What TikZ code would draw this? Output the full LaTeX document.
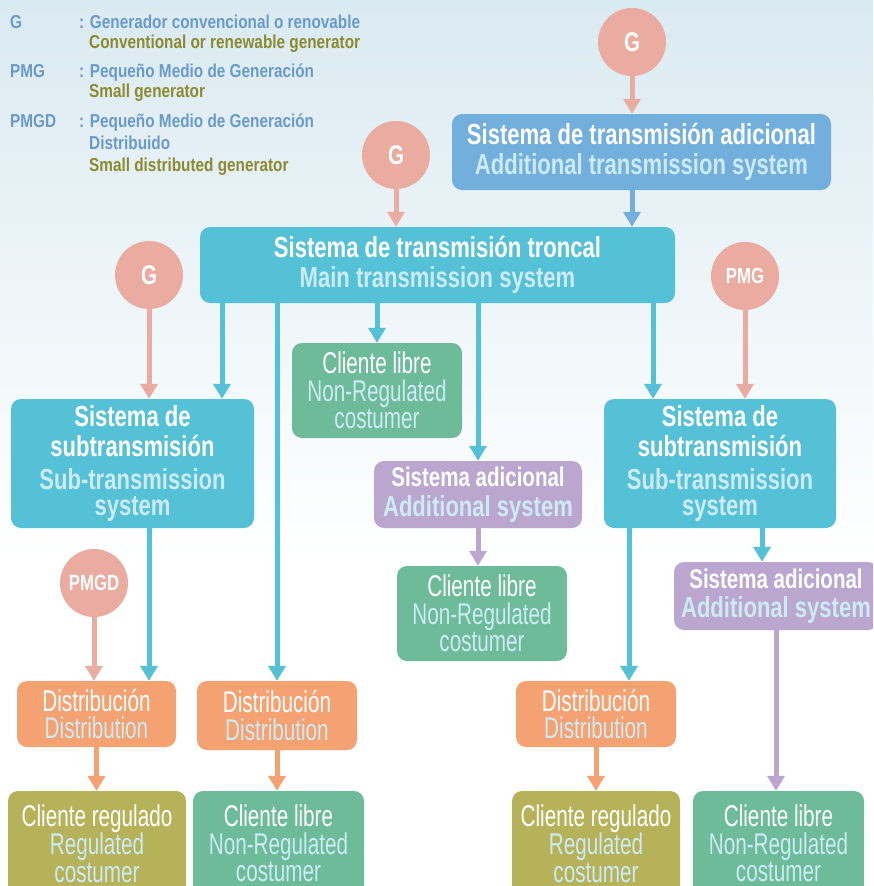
\documentclass[tikz,border=0pt]{standalone}
\usepackage{fontspec}
\setmainfont{Liberation Sans}
\newfontfamily\boldnarrow{Liberation Sans}[FakeStretch=0.76]
\newfontfamily\plainnarrow{Liberation Sans}[FakeStretch=0.69]
\newfontfamily\keynarrow{Liberation Sans}[FakeStretch=0.82]
\usetikzlibrary{arrows.meta}

\definecolor{gencol}{HTML}{EAABA1}
\definecolor{addcol}{HTML}{72AFDC}
\definecolor{trkcol}{HTML}{55C1D6}
\definecolor{freecol}{HTML}{6DBB99}
\definecolor{syscol}{HTML}{BAA6CF}
\definecolor{distcol}{HTML}{F5A272}
\definecolor{regcol}{HTML}{B5B25A}
\definecolor{subcol}{HTML}{CDEBF5}
\definecolor{keyblue}{HTML}{6A9AC9}
\definecolor{keyolive}{HTML}{8C8A30}
\definecolor{bgtop}{HTML}{DAEAF1}

\tikzset{
  keytext/.style={anchor=base west, inner sep=0pt,
    font=\keynarrow\bfseries\fontsize{18.7}{18.7}\selectfont},
  gen/.style={circle, fill=gencol, minimum size=68pt, inner sep=0pt,
    text=white, font=\boldnarrow\bfseries\fontsize{27}{27}\selectfont},
  smallgen/.style={gen, font=\boldnarrow\bfseries\fontsize{22}{22}\selectfont},
  titlebox/.style={rounded corners=10pt, inner sep=0pt, align=center,
    text=white, font=\boldnarrow\bfseries\fontsize{29}{29.5}\selectfont},
  plainbox/.style={rounded corners=10pt, inner sep=0pt, align=center,
    text=white, font=\plainnarrow\fontsize{30}{27.5}\selectfont},
  flow/.style={line width=5pt, -{Triangle[width=17pt,length=15pt]}},
  genarr/.style={flow, draw=gencol},
  addarr/.style={flow, draw=addcol},
  trkarr/.style={flow, draw=trkcol},
  sysarr/.style={flow, draw=syscol},
  distarr/.style={flow, draw=distcol},
}

\begin{document}
\begin{tikzpicture}[x=1pt, y=-1pt]
\useasboundingbox (0,0) rectangle (873,886);
\clip (0,0) rectangle (873,886);

% background wash
\fill[white] (0,0) rectangle (873,886);
\shade[top color=bgtop, bottom color=white] (0,0) rectangle (873,560);

% key
\node[keytext, text=keyblue] (kG) at (10,28.5) {G};
\node[keytext, text=keyblue] (kGes) at (79,28.5) {: Generador convencional o renovable};
\node[keytext, text=keyolive] (kGen) at (89,48.5) {Conventional or renewable generator};
\node[keytext, text=keyblue] (kP) at (10,77.5) {PMG};
\node[keytext, text=keyblue] (kPes) at (79,77.5) {: Pequeño Medio de Generación};
\node[keytext, text=keyolive] (kPen) at (89,97.5) {Small generator};
\node[keytext, text=keyblue] (kD) at (10,127.5) {PMGD};
\node[keytext, text=keyblue] (kDes) at (79,127.5) {: Pequeño Medio de Generación};
\node[keytext, text=keyblue] (kDes2) at (89,149.5) {Distribuido};
\node[keytext, text=keyolive] (kDen) at (89,171.5) {Small distributed generator};

% generators
\node[gen] (genA) at (632,42) {G};
\node[gen] (genB) at (396,155) {G};
\node[gen] (genC) at (149,275) {G};
\node[smallgen] (pmg) at (745,276) {PMG};
\node[smallgen] (pmgd) at (94,583) {PMGD};

% transmission systems
\node[titlebox, fill=addcol, minimum width=379pt, minimum height=76pt] (add) at (641.5,152)
  {Sistema de transmisión adicional\\\color{subcol}Additional transmission system};
\node[titlebox, fill=trkcol, minimum width=475pt, minimum height=76pt] (main) at (437.5,265)
  {Sistema de transmisión troncal\\\color{subcol}Main transmission system};
\node[titlebox, fill=trkcol, minimum width=243pt, minimum height=129pt] (lsub) at (132.5,463.5)
  {Sistema de\\subtransmisión\\[4pt]\color{subcol}Sub-transmission\\[-4pt]\color{subcol}system};
\node[titlebox, fill=trkcol, minimum width=232pt, minimum height=129pt] (rsub) at (720,463.5)
  {Sistema de\\subtransmisión\\[4pt]\color{subcol}Sub-transmission\\[-4pt]\color{subcol}system};
\node[titlebox, fill=syscol, minimum width=208pt, minimum height=67pt] (sys1) at (478,494.5)
  {{\fontsize{27}{29.5}\selectfont Sistema adicional}\\\color{subcol}Additional system};
\node[titlebox, fill=syscol, minimum width=204pt, minimum height=68pt] (sys2) at (776,596)
  {{\fontsize{27}{29.5}\selectfont Sistema adicional}\\\color{subcol}Additional system};

% customers and distribution
\node[plainbox, fill=freecol, minimum width=170pt, minimum height=95pt] (free1) at (377,390.5)
  {Cliente libre\\\color{subcol}Non-Regulated\\\color{subcol}costumer};
\node[plainbox, fill=freecol, minimum width=170pt, minimum height=95pt] (free2) at (482,613.5)
  {Cliente libre\\\color{subcol}Non-Regulated\\\color{subcol}costumer};
\node[plainbox, fill=distcol, minimum width=159pt, minimum height=66pt] (dist1) at (96.5,714)
  {Distribución\\\color{subcol}Distribution};
\node[plainbox, fill=distcol, minimum width=160pt, minimum height=69pt] (dist2) at (277,715.5)
  {Distribución\\\color{subcol}Distribution};
\node[plainbox, fill=distcol, minimum width=160pt, minimum height=66pt] (dist3) at (596,714)
  {Distribución\\\color{subcol}Distribution};
\node[plainbox, fill=regcol, minimum width=178pt, minimum height=105pt] (reg1) at (97,843.5)
  {Cliente regulado\\\color{subcol}Regulated\\\color{subcol}costumer};
\node[plainbox, fill=freecol, minimum width=171pt, minimum height=105pt] (free3) at (278.5,843.5)
  {Cliente libre\\\color{subcol}Non-Regulated\\\color{subcol}costumer};
\node[plainbox, fill=regcol, minimum width=168pt, minimum height=105pt] (reg2) at (596,843.5)
  {Cliente regulado\\\color{subcol}Regulated\\\color{subcol}costumer};
\node[plainbox, fill=freecol, minimum width=171pt, minimum height=105pt] (free4) at (778.5,843.5)
  {Cliente libre\\\color{subcol}Non-Regulated\\\color{subcol}costumer};

% connectors
\draw[genarr] (genA.south) -- (genA.south |- add.north);
\draw[addarr] (add.south -| genA) -- (main.north -| genA);
\draw[genarr] (genB.south) -- (genB.south |- main.north);
\draw[genarr] (genC.south) -- (genC.south |- lsub.north);
\draw[trkarr] (main.south -| 222,0) -- (lsub.north -| 222,0);
\draw[trkarr] (main.south -| dist2.north) -- (dist2.north);
\draw[trkarr] (main.south -| free1.north) -- (free1.north);
\draw[trkarr] (main.south -| sys1.north) -- (sys1.north);
\draw[trkarr] (main.south -| 653,0) -- (rsub.north -| 653,0);
\draw[genarr] (pmg.south) -- (pmg.south |- rsub.north);
\draw[trkarr] (lsub.south -| genC) -- (dist1.north -| genC);
\draw[genarr] (pmgd.south) -- (pmgd.south |- dist1.north);
\draw[distarr] (dist1.south) -- (reg1.north -| dist1.south);
\draw[distarr] (dist2.south) -- (free3.north -| dist2.south);
\draw[sysarr] (sys1.south) -- (free2.north -| sys1.south);
\draw[trkarr] (rsub.south -| 629,0) -- (dist3.north -| 629,0);
\draw[trkarr] (rsub.south -| 762,0) -- (sys2.north -| 762,0);
\draw[sysarr] (sys2.south) -- (free4.north -| sys2.south);
\draw[distarr] (dist3.south) -- (reg2.north -| dist3.south);
\end{tikzpicture}
\end{document}
